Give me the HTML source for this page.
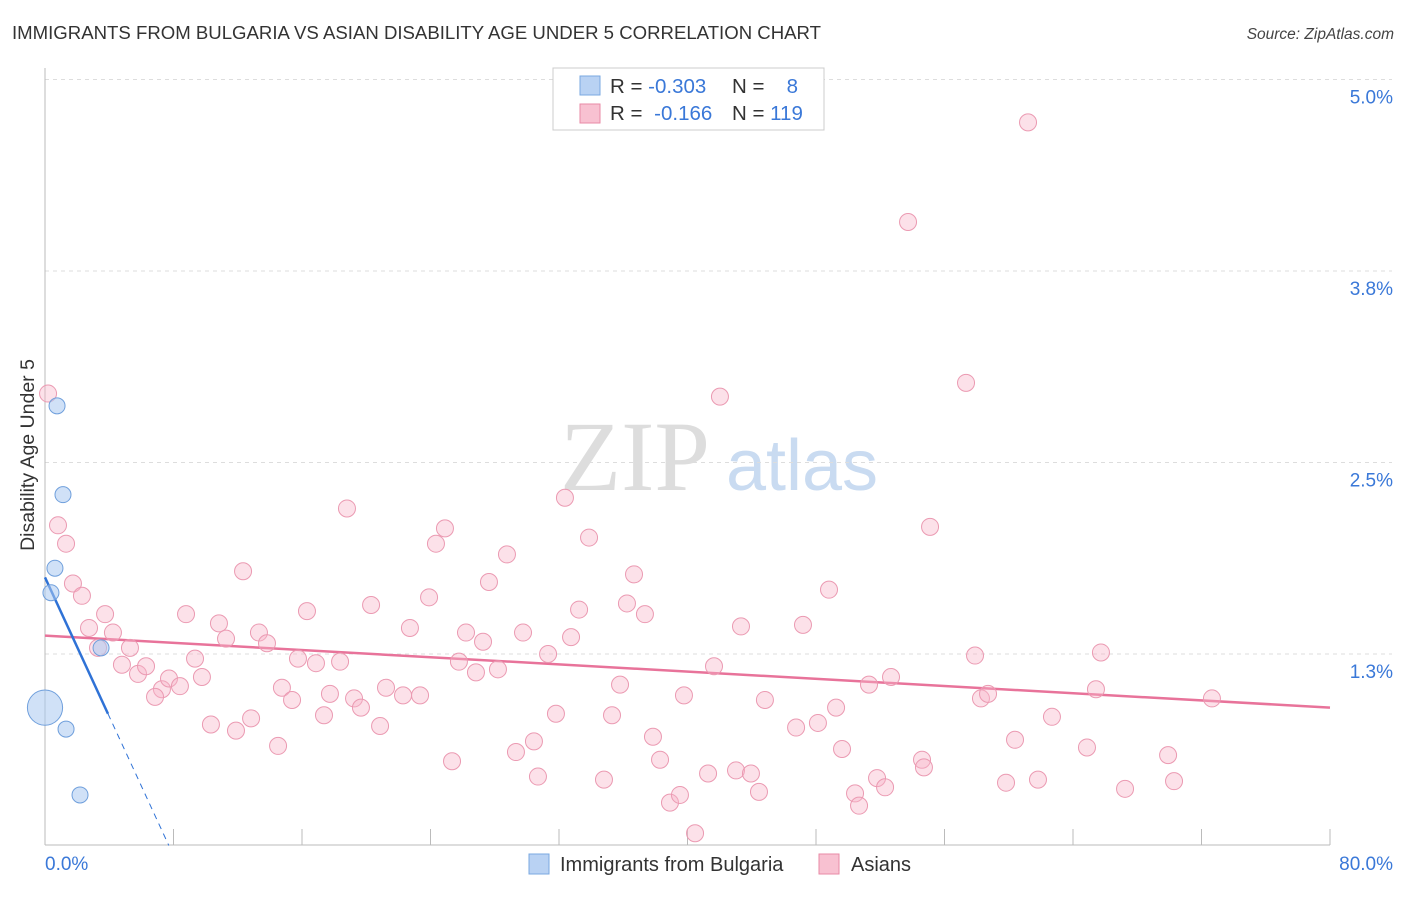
<!DOCTYPE html>
<html><head><meta charset="utf-8"><style>
body{margin:0;background:#fff;font-family:"Liberation Sans",sans-serif;}
svg text{font-family:"Liberation Sans",sans-serif;}
</style></head><body>
<svg id="chart" width="1406" height="892" xmlns="http://www.w3.org/2000/svg">
<text x="12" y="39" font-size="18.6" fill="#333">IMMIGRANTS FROM BULGARIA VS ASIAN DISABILITY AGE UNDER 5 CORRELATION CHART</text>
<text x="1394" y="39" font-size="15.5" fill="#444" text-anchor="end" font-style="italic">Source: ZipAtlas.com</text>
<text transform="translate(34,455) rotate(-90)" font-size="19.5" fill="#333" text-anchor="middle">Disability Age Under 5</text>
<g>
<text x="635" y="490" font-size="100" fill="#ddd" text-anchor="middle" style="font-family:'Liberation Serif',serif">ZIP</text>
<text x="802" y="490" font-size="72" fill="#c9dbf1" text-anchor="middle">atlas</text>
</g>
<g id="grid"></g>
<g id="axes"></g>
<g id="lines"></g>
<g id="points"></g>
<g>
<rect x="553" y="68" width="271" height="62" fill="#fff" stroke="#ccc"/>
<rect x="580" y="76" width="20" height="19" fill="#b9d2f3" stroke="#7aa8e0"/>
<rect x="580" y="104" width="20" height="19" fill="#f8c1d1" stroke="#e88aa6"/>
<text x="610" y="93" font-size="20.5" fill="#333">R = <tspan fill="#3a78d8">-0.303</tspan></text>
<text x="732" y="93" font-size="20.5" fill="#333">N = </text><text x="798" y="93" font-size="20.5" fill="#3a78d8" text-anchor="end">8</text>
<text x="610" y="120" font-size="20.5" fill="#333">R = <tspan fill="#3a78d8" dx="6">-0.166</tspan></text>
<text x="732" y="120" font-size="20.5" fill="#333">N = <tspan fill="#3a78d8">119</tspan></text>
</g>
<g>
<rect x="529" y="854" width="20" height="20" fill="#b9d2f3" stroke="#7aa8e0"/>
<text x="560" y="871" font-size="20" fill="#333">Immigrants from Bulgaria</text>
<rect x="819" y="854" width="20" height="20" fill="#f8c1d1" stroke="#e88aa6"/>
<text x="851" y="871" font-size="20" fill="#333">Asians</text>
</g>
</svg>
<script>
const xTickLabels=["0.0%","80.0%"];
const yTicks=[1.25,2.5,3.75,5.0];
const yTickLabels=["1.3%","2.5%","3.8%","5.0%"];
const blueX=[0.75,1.12,0.62,0.37,3.49,0,1.31,2.18];
const blueY=[2.87,2.29,1.81,1.65,1.29,0.90,0.76,0.33];
const blueSize=[1,1,1,1,1,2.2,1,1];
const pinkX=[0.19,0.81,1.31,1.74,2.30,2.74,3.74,4.23,3.30,5.29,4.79,5.79,6.29,7.28,6.85,7.72,8.40,9.34,9.77,8.78,10.33,10.83,11.27,11.89,12.33,12.83,13.32,13.82,14.51,14.75,15.38,15.75,16.31,16.87,17.37,17.74,18.37,18.80,19.24,19.67,20.30,20.86,21.23,22.29,22.72,23.35,23.91,24.34,24.90,25.34,25.77,26.21,26.83,27.27,27.64,28.20,28.76,29.32,29.76,30.44,30.69,31.32,31.81,32.37,32.75,33.25,33.87,34.80,35.30,35.80,36.23,36.67,37.35,37.85,38.29,38.91,39.53,39.78,40.47,41.28,41.65,42.02,43.02,43.33,43.95,44.45,44.82,46.76,47.19,48.12,48.81,49.25,49.62,50.43,50.68,51.80,51.30,52.30,52.67,53.73,54.60,54.72,55.10,57.34,57.90,58.27,58.71,59.83,60.39,61.20,61.82,62.69,64.87,65.43,65.74,67.24,69.92,70.29,72.65];
const pinkY=[2.95,2.09,1.97,1.71,1.63,1.42,1.51,1.39,1.29,1.29,1.18,1.12,1.17,1.02,0.97,1.09,1.04,1.22,1.10,1.51,0.79,1.45,1.35,0.75,1.79,0.83,1.39,1.32,0.65,1.03,0.95,1.22,1.53,1.19,0.85,0.99,1.20,2.20,0.96,0.90,1.57,0.78,1.03,0.98,1.42,0.98,1.62,1.97,2.07,0.55,1.20,1.39,1.13,1.33,1.72,1.15,1.90,0.61,1.39,0.68,0.45,1.25,0.86,2.27,1.36,1.54,2.01,0.43,0.85,1.05,1.58,1.77,1.51,0.71,0.56,0.28,0.33,0.98,0.08,0.47,1.17,2.93,0.49,1.43,0.47,0.35,0.95,0.77,1.44,0.80,1.67,0.90,0.63,0.34,0.26,0.44,1.05,0.38,1.10,4.07,0.56,0.51,2.08,3.02,1.24,0.96,0.99,0.41,0.69,4.72,0.43,0.84,0.64,1.02,1.26,0.37,0.59,0.42,0.96];
const pinkTrend=[1.37,0.90];
const blueTrend=[1.75,-0.227];
const NS="http://www.w3.org/2000/svg";
const X0=45,X1=1330,Y0=845.5,PY=153.2;
function sx(v){return X0+v/80*(X1-X0);}
function sy(v){return Y0-v*PY;}
function mk(tag,attrs,parent){const e=document.createElementNS(NS,tag);for(const k in attrs)e.setAttribute(k,attrs[k]);document.getElementById(parent).appendChild(e);return e;}
yTicks.forEach((t,i)=>{
 const g=mk('line',{x1:X0,x2:1392,y1:sy(t),y2:sy(t),stroke:'#ddd','stroke-dasharray':'4,4'},'grid');
 
 
 const l=mk('text',{x:1393,y:sy(t)+24,'font-size':19,fill:'#3a78d8','text-anchor':'end'},'grid');
 l.textContent=yTickLabels[i];
 
 
});
const ax=mk('line',{x1:X0,x2:X0,y1:68,y2:845,stroke:'#bbb'},'axes');


const bx=mk('line',{x1:X0,x2:X1,y1:845,y2:845,stroke:'#bbb'},'axes');


for(let i=1;i<=10;i++){
 const t=mk('line',{x1:sx(i*8),x2:sx(i*8),y1:829,y2:845,stroke:'#bbb'},'axes');
 
 
}
[[0,xTickLabels[0],'start',45],[80,xTickLabels[1],'end',1393]].forEach(a=>{
 const t=mk('text',{x:a[3],y:870,'font-size':19,fill:'#3a78d8','text-anchor':a[2]},'axes');
 t.textContent=a[1];
 
 
});
pinkX.forEach((x,i)=>{
 const c=mk('circle',{cx:sx(x),cy:sy(pinkY[i]),r:8.5,fill:'rgba(247,180,200,0.4)',stroke:'#eb9ab2','stroke-width':1},'points');
 
 
});
blueX.forEach((x,i)=>{
 const c=mk('circle',{cx:sx(x),cy:sy(blueY[i]),r:8*blueSize[i],fill:'rgba(170,200,240,0.55)',stroke:'#6f9fdc','stroke-width':1},'points');
 
 
});
const pl=mk('line',{x1:sx(0),y1:sy(pinkTrend[0]),x2:sx(80),y2:sy(pinkTrend[1]),stroke:'#e8739a','stroke-width':2.5},'lines');


const xs=3.92, xz=-blueTrend[0]/blueTrend[1];
const bl=mk('line',{x1:sx(0),y1:sy(blueTrend[0]),x2:sx(xs),y2:sy(blueTrend[0]+blueTrend[1]*xs),stroke:'#2f72d6','stroke-width':2.5},'lines');


const bd=mk('line',{x1:sx(xs),y1:sy(blueTrend[0]+blueTrend[1]*xs),x2:sx(xz),y2:sy(0),stroke:'#2f72d6','stroke-width':1,'stroke-dasharray':'6,5'},'lines');


</script>
</body></html>
